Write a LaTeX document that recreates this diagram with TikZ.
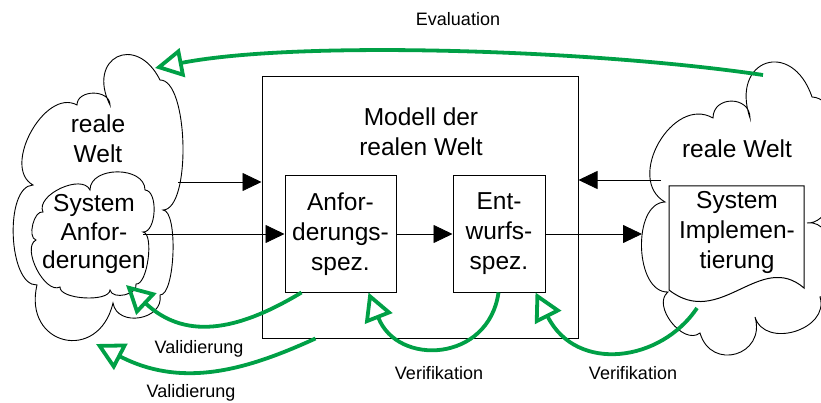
\documentclass[tikz,border=0pt]{standalone}
\usepackage{fontspec}
\setmainfont{Liberation Sans}
\usetikzlibrary{arrows.meta,calc}
\definecolor{vgreen}{RGB}{0,160,70}
\begin{document}
\begin{tikzpicture}[x=1pt,y=-1pt,
  lobe/.style n args={3}{insert path={.. controls ($#1!#3!90:#2$) and ($#2!#3!-90:#1$) .. #2}},
  cloudline/.style={draw, line width=0.9pt, fill=white},
  bigtxt/.style={font=\fontsize{24.5}{30}\selectfont, align=center, inner sep=0pt},
  lbl/.style={font=\fontsize{18}{22}\selectfont, inner sep=0pt},
  specbox/.style={draw, line width=1pt, fill=white},
  blk/.style={line width=0.8pt, -{Triangle[length=19pt,width=18pt]}},
  grn/.style={draw=vgreen, line width=3.8pt, -{Triangle[open,length=28pt,width=29pt]}}]
\useasboundingbox (0,0) rectangle (821,403);
\clip (0,0) rectangle (821,403);

% left outer cloud
\path[cloudline] (33,185) [lobe={(33,185)}{(77,105)}{0.4}] [lobe={(77,105)}{(110,105)}{0.48}]
  [lobe={(110,105)}{(160,80)}{0.95}] [lobe={(160,80)}{(163,210)}{0.22}]
  [lobe={(163,210)}{(160,295)}{0.18}] [lobe={(160,295)}{(113,303)}{0.53}]
  [lobe={(113,303)}{(37,285)}{0.8}] [lobe={(37,285)}{(33,185)}{0.29}] -- cycle;
% inner cloud
\path[cloudline] (43,212) [lobe={(43,212)}{(90,190)}{0.36}] [lobe={(90,190)}{(145,190)}{0.44}]
  [lobe={(145,190)}{(143,232)}{0.32}] [lobe={(143,232)}{(136,284)}{0.22}]
  [lobe={(136,284)}{(110,290)}{0.4}] [lobe={(110,290)}{(60,287)}{0.25}]
  [lobe={(60,287)}{(36,240)}{0.32}] [lobe={(36,240)}{(43,212)}{0.32}] -- cycle;
% right cloud
\path[cloudline] (665,202) [lobe={(665,202)}{(713,118)}{0.48}] [lobe={(713,118)}{(750,118)}{0.61}]
  [lobe={(750,118)}{(812,97)}{0.95}] [lobe={(812,97)}{(807,223)}{0.32}]
  [lobe={(807,223)}{(820,297)}{0.4}] [lobe={(820,297)}{(755,317)}{0.5}]
  [lobe={(755,317)}{(700,333)}{0.7}] [lobe={(700,333)}{(668,292)}{0.41}]
  [lobe={(668,292)}{(665,202)}{0.37}] -- cycle;
% document shape
\path[specbox] (669,186) -- (804,186) -- (804,288) .. controls (760,250) and (720,330) .. (669,290) -- cycle;

% contact points
\coordinate (lc1) at (178,182);
\coordinate (ic1) at (143,234);
\coordinate (rc1) at (661,180);
\coordinate (rc2) at (642,234);
\coordinate (ev1) at (763,75);
\coordinate (ev2) at (155,68);
\coordinate (va1) at (126,285);
\coordinate (va2) at (96,344);
\coordinate (vf2) at (697,308);

% boxes
\node[specbox, minimum width=316pt, minimum height=261pt] (modell) at (420,207.5) {};
\node[specbox, minimum width=111pt, minimum height=116pt, inner sep=0pt] (anf) at (340.5,234) {};
\node[specbox, minimum width=92pt, minimum height=116pt, inner sep=0pt] (ent) at (499,234) {};

% texts
\node[bigtxt] (ltxt) at (98,139) {reale\\Welt};
\node[bigtxt, font=\fontsize{24.5}{28.5}\selectfont] (itxt) at (94,234) {System\\Anfor-\\derungen};
\node[bigtxt] (mtxt) at (421,132) {Modell der\\realen Welt};
\node[bigtxt] (atxt) at (anf) {Anfor-\\derungs-\\spez.};
\node[bigtxt] (etxt) at (ent) {Ent-\\wurfs-\\spez.};
\node[bigtxt, anchor=base] (rtxt) at (737,158) {reale Welt};
\node[bigtxt] (impl) at (737,232) {System\\Implemen-\\tierung};

% black arrows
\draw[blk] (lc1) -- (lc1 -| modell.west);
\draw[blk] (ic1) -- (anf.west);
\draw[blk] (anf.east) -- (ent.west);
\draw[blk] (ent.east) -- (rc2);
\draw[blk] (rc1) -- (rc1 -| modell.east);

% green arrows
\draw[grn] (ev1) .. controls +(-168,-25) and +(145,-28) .. (ev2);
\draw[grn] ($(anf.south west)+(17,0)$) .. controls +(-58,35) and +(62,58) .. (va1);
\draw[grn] ($(modell.south west)+(54,0)$) .. controls +(-64,29) and +(89,46) .. (va2);
\draw[grn] ($(ent.south west)+(46,0)$) .. controls +(-10,70) and +(29,74) .. ($(anf.south east)+(-28,0)$);
\draw[grn] (vf2) .. controls +(-36,54) and +(41,81) .. ($(ent.south east)+(-10,0)$);

% labels
\node[lbl] (levl) at (458,19) {Evaluation};
\node[lbl] (lva1) at (199,349) {Validierung};
\node[lbl] (lva2) at (191,393) {Validierung};
\node[lbl] (lvf1) at (439,373) {Verifikation};
\node[lbl] (lvf2) at (633,373) {Verifikation};
\end{tikzpicture}
\end{document}
